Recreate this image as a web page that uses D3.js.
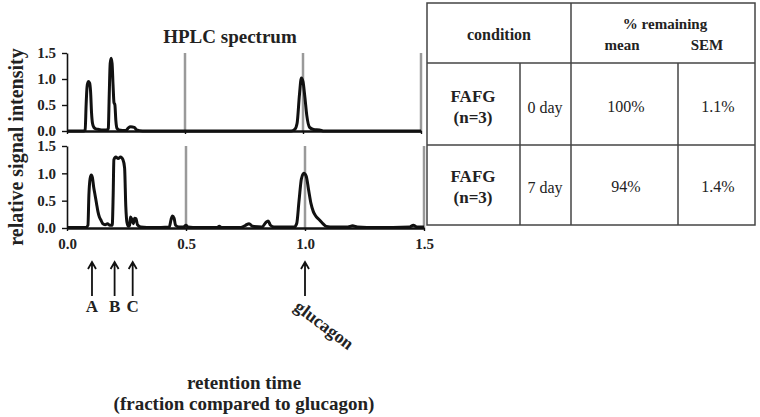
<!DOCTYPE html>
<html>
<head>
<meta charset="utf-8">
<script src="https://cdn.jsdelivr.net/npm/d3@7"></script>
<style>
  body { margin: 0; background: #fff; }
</style>
</head>
<body>
<script>
// chromatogram traces, [retention time fraction, relative signal]
const day0 = [
  [0, 0], [0.07, 0], [0.077, 0.02], [0.081, 0.5], [0.085, 0.85], [0.09, 0.95], [0.096, 0.92],
  [0.1, 0.75], [0.104, 0.35], [0.108, 0.15], [0.114, 0.07], [0.122, 0.04], [0.135, 0.03],
  [0.15, 0.02], [0.17, 0.02], [0.175, 0.05], [0.179, 0.7], [0.183, 1.3], [0.187, 1.4],
  [0.191, 1.3], [0.195, 0.9], [0.199, 0.55], [0.203, 0.5], [0.207, 0.2], [0.212, 0.05],
  [0.22, 0.02], [0.25, 0.01], [0.26, 0.06], [0.27, 0.08], [0.285, 0.07], [0.295, 0.02],
  [0.32, 0], [0.95, 0], [0.965, 0.03], [0.975, 0.15], [0.985, 0.7], [0.993, 1.02],
  [1.0, 0.95], [1.008, 0.65], [1.016, 0.3], [1.028, 0.07], [1.045, 0.03], [1.07, 0.02],
  [1.09, 0], [1.5, 0]
];
const day7 = [
  [0, 0.01], [0.08, 0.01], [0.088, 0.05], [0.092, 0.6], [0.097, 0.9], [0.102, 0.97],
  [0.107, 0.92], [0.112, 0.75], [0.118, 0.6], [0.124, 0.45], [0.13, 0.3], [0.136, 0.2],
  [0.142, 0.15], [0.15, 0.08], [0.16, 0.06], [0.17, 0.08], [0.18, 0.05], [0.19, 0.05],
  [0.194, 0.6], [0.197, 1.25], [0.205, 1.3], [0.215, 1.27], [0.225, 1.3], [0.235, 1.25],
  [0.242, 1.1], [0.247, 0.4], [0.252, 0.1], [0.258, 0.03], [0.263, 0.05], [0.267, 0.2],
  [0.273, 0.15], [0.279, 0.08], [0.284, 0.18], [0.29, 0.17], [0.296, 0.06], [0.31, 0.02],
  [0.36, 0.01], [0.43, 0.02], [0.437, 0.15], [0.443, 0.22], [0.45, 0.18], [0.456, 0.05],
  [0.47, 0.02], [0.49, 0.02], [0.5, 0.05], [0.508, 0.02], [0.55, 0.01], [0.63, 0.01],
  [0.64, 0.03], [0.65, 0.01], [0.73, 0.01], [0.75, 0.05], [0.765, 0.08], [0.78, 0.03],
  [0.82, 0.02], [0.835, 0.1], [0.845, 0.13], [0.855, 0.05], [0.87, 0.02], [0.955, 0.02],
  [0.965, 0.08], [0.975, 0.5], [0.985, 0.9], [0.995, 1.0], [1.005, 0.95], [1.015, 0.7],
  [1.025, 0.45], [1.035, 0.3], [1.045, 0.22], [1.06, 0.15], [1.075, 0.08], [1.09, 0.03],
  [1.12, 0.02], [1.18, 0.02], [1.2, 0.04], [1.22, 0.02], [1.3, 0.01], [1.44, 0.02],
  [1.455, 0.05], [1.47, 0.02], [1.5, 0.02]
];
const yTicks = [0, 0.5, 1.0, 1.5];
const xTicks = [0, 0.5, 1.0, 1.5];
const markerLines = [0.5, 1.0, 1.5];
const arrowMarks = [
  { x: 0.105, label: "A" },
  { x: 0.2, label: "B" },
  { x: 0.276, label: "C" }
];
const glucagonMark = 1.0;

// table contents
const tableHeader = ["condition", "% remaining", "mean", "SEM"];
const tableSample = ["FAFG", "(n=3)"];
const tableDays = ["0 day", "7 day"];
const tableMean = ["100%", "94%"];
const tableSEM = ["1.1%", "1.4%"];

const serif = "'Liberation Serif', 'Times New Roman', Times, serif";
const width = 760, height = 417;
const svg = d3.select("body").append("svg")
  .attr("width", width)
  .attr("height", height)
  .attr("font-family", serif);
svg.append("rect").attr("width", width).attr("height", height).attr("fill", "#fff");

const panels = [
  { data: day0, x: d3.scaleLinear([0, 1.5], [67, 421]), y: d3.scaleLinear([0, 1.5], [131, 53]), labels: false },
  { data: day7, x: d3.scaleLinear([0, 1.5], [67, 424]), y: d3.scaleLinear([0, 1.5], [228, 146]), labels: true }
];

function label(sel, size, bold) {
  return sel.style("font-family", serif)
    .style("font-weight", bold ? "bold" : "normal")
    .style("font-size", size + "px")
    .attr("fill", "#222");
}

panels.forEach(p => {
  const g = svg.append("g");
  // grey reference lines
  g.selectAll(".ref")
    .data(markerLines)
    .enter()
    .append("line")
    .attr("x1", d => p.x(d)).attr("x2", d => p.x(d))
    .attr("y1", p.y(0)).attr("y2", p.y(1.5))
    .attr("stroke", "#9a9a9a")
    .attr("stroke-width", 2.5);

  const line = d3.line()
    .x(d => p.x(d[0]))
    .y(d => p.y(d[1]))
    .curve(d3.curveMonotoneX);
  g.append("path")
    .datum(p.data)
    .attr("d", line)
    .attr("fill", "none")
    .attr("stroke", "#111")
    .attr("stroke-width", 3)
    .attr("stroke-linejoin", "round");

  const yAxis = g.append("g")
    .attr("transform", `translate(${p.x(0)},0)`)
    .call(d3.axisLeft(p.y).tickValues(yTicks).tickFormat(d3.format(".1f")).tickSize(5).tickSizeOuter(0).tickPadding(6));
  yAxis.select(".domain").attr("stroke", "#111").attr("stroke-width", 1.6);
  yAxis.selectAll(".tick line").attr("stroke", "#111").attr("stroke-width", 1.4);
  label(yAxis.selectAll("text"), 15, true);

  const xAxis = g.append("g")
    .attr("transform", `translate(0,${p.y(0)})`)
    .call(d3.axisBottom(p.x).tickValues(xTicks)
      .tickFormat(p.labels ? d3.format(".1f") : "")
      .tickSize(3).tickSizeOuter(0).tickPadding(7));
  xAxis.select(".domain").attr("stroke", "#111").attr("stroke-width", 2.4);
  xAxis.selectAll(".tick line").attr("stroke", "#111").attr("stroke-width", 1.4);
  label(xAxis.selectAll("text"), 15, true);
});

// titles
label(svg.append("text"), 19, true)
  .attr("x", 230).attr("y", 43)
  .attr("text-anchor", "middle")
  .text("HPLC spectrum");

label(svg.append("text"), 20, true)
  .attr("transform", "translate(23,147) rotate(-90)")
  .attr("text-anchor", "middle")
  .text("relative signal intensity");

label(svg.append("text"), 19, true)
  .attr("x", 244).attr("y", 389)
  .attr("text-anchor", "middle")
  .text("retention time");
label(svg.append("text"), 19, true)
  .attr("x", 244).attr("y", 410)
  .attr("text-anchor", "middle")
  .text("(fraction compared to glucagon)");

// arrows under the axis
const xb = panels[1].x;
const arrowTop = 262, arrowBottom = 296;
function drawArrow(px) {
  svg.append("path")
    .attr("d", `M${px},${arrowBottom}L${px},${arrowTop}M${px - 4},${arrowTop + 7}L${px},${arrowTop}L${px + 4},${arrowTop + 7}`)
    .attr("fill", "none")
    .attr("stroke", "#111")
    .attr("stroke-width", 1.8);
}
arrowMarks.forEach(a => {
  const px = xb(a.x);
  drawArrow(px);
  label(svg.append("text"), 17, true)
    .attr("x", px).attr("y", 312)
    .attr("text-anchor", "middle")
    .text(a.label);
});
drawArrow(xb(glucagonMark));
label(svg.append("text"), 18, true)
  .attr("transform", `translate(${xb(glucagonMark) - 12},${309}) rotate(37)`)
  .attr("text-anchor", "start")
  .text("glucagon");

// table
const cols = [427, 520, 571, 678, 755];
const rows = [3, 63, 145, 225];
const tbl = svg.append("g");
const border = "#444";
tbl.append("rect")
  .attr("x", cols[0]).attr("y", rows[0])
  .attr("width", cols[4] - cols[0]).attr("height", rows[3] - rows[0])
  .attr("fill", "none").attr("stroke", border).attr("stroke-width", 1.5);
[rows[1], rows[2]].forEach(y => {
  tbl.append("line").attr("x1", cols[0]).attr("x2", cols[4]).attr("y1", y).attr("y2", y)
    .attr("stroke", border).attr("stroke-width", 1.5);
});
tbl.append("line").attr("x1", cols[2]).attr("x2", cols[2]).attr("y1", rows[0]).attr("y2", rows[3])
  .attr("stroke", border).attr("stroke-width", 1.5);
[cols[1], cols[3]].forEach(x => {
  tbl.append("line").attr("x1", x).attr("x2", x).attr("y1", rows[1]).attr("y2", rows[3])
    .attr("stroke", border).attr("stroke-width", 1.5);
});

function cellText(x, y, s, bold, size) {
  label(tbl.append("text"), size, bold)
    .attr("x", x).attr("y", y)
    .attr("text-anchor", "middle")
    .text(s);
}
cellText(499, 40, tableHeader[0], true, 16);
cellText(665, 29, tableHeader[1], true, 15);
cellText(622, 50, tableHeader[2], true, 15);
cellText(707, 50, tableHeader[3], true, 15);

const rowBase = [102, 182];
tableDays.forEach((d, i) => {
  const b = rowBase[i];
  cellText(473, b, tableSample[0], true, 17);
  cellText(473, b + 21, tableSample[1], true, 17);
  cellText(545, b + 11, d, false, 16);
  cellText(626, b + 10, tableMean[i], false, 16);
  cellText(718, b + 10, tableSEM[i], false, 16);
});
</script>
</body>
</html>
